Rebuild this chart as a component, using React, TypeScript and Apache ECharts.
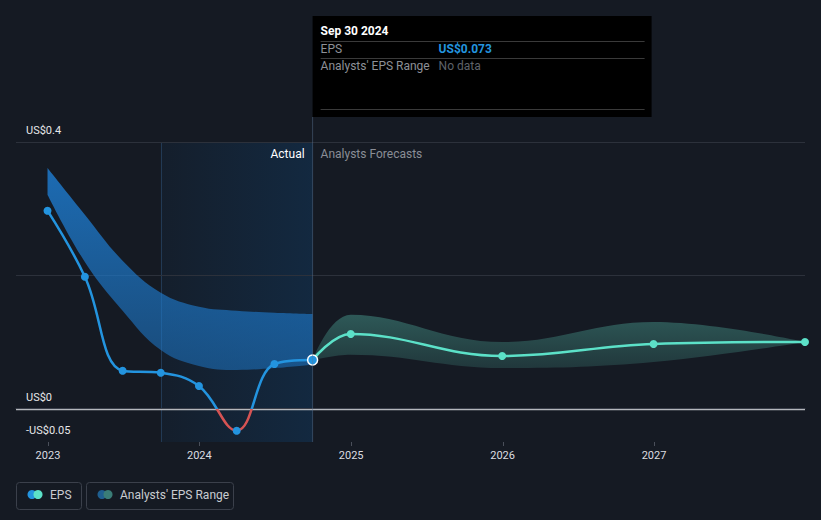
import React, { useEffect, useRef } from "react";
import * as echarts from "echarts";

const actualDates = ["2022-12-31", "2023-03-31", "2023-06-30", "2023-09-30", "2023-12-31", "2024-03-31", "2024-06-30", "2024-09-30"];
const actualEps = [0.297, 0.198, 0.057, 0.054, 0.034, -0.033, 0.067, 0.073];
const pastRangeLow = [0.321, 0.22, 0.147, 0.088, 0.064, 0.058, 0.061, 0.066];
const pastRangeHigh = [0.361, 0.291, 0.222, 0.174, 0.153, 0.147, 0.144, 0.142];

const forecastDates = ["2024-09-30", "2024-12-31", "2025-12-31", "2026-12-31", "2027-12-31"];
const forecastEps = [0.073, 0.112, 0.079, 0.097, 0.1];
const forecastLow = [0.073, 0.081, 0.061, 0.07, 0.1];
const forecastHigh = [0.073, 0.141, 0.1, 0.13, 0.1];

const yearTicks = [2023, 2024, 2025, 2026, 2027];
const yLabelValues = [-0.05, 0, 0.4];
const gridValues = [0.2, 0.4];
const actualStart = "2023-09-30";
const tooltipDate = "2024-09-30";
const tooltipTitle = "Sep 30 2024";
const tooltipEps = "US$0.073";

const ts = (d: string) => {
  const [y, m, dd] = d.split("-").map(Number);
  return Date.UTC(y, m - 1, dd);
};

const FONT = "Roboto, 'Noto Sans', sans-serif";
const BG = "#151a23";
const BLUE = "#2394df";
const RED = "#d65353";
const TEAL = "#5ce1c8";

export default function App() {
  const ref = useRef<HTMLDivElement>(null);
  useEffect(() => {
    if (!ref.current) return;
    const chart = echarts.init(ref.current, null, { renderer: "svg" });
    const pair = (dates: string[], vals: number[]) => dates.map((d, i) => [ts(d), vals[i]]);
    const diff = (lo: number[], hi: number[]) => hi.map((h, i) => +(h - lo[i]).toFixed(4));
    const yearTs = yearTicks.map((y) => Date.UTC(y, 0, 1));

    const option: any = {
      animation: false,
      useUTC: true,
      backgroundColor: BG,
      textStyle: { fontFamily: FONT },
      grid: { left: 16, right: 16, top: 142, bottom: 78, containLabel: false },
      xAxis: {
        type: "time",
        min: Date.UTC(2022, 9, 16),
        max: Date.UTC(2027, 11, 31),
        splitNumber: 5,
        splitLine: { show: false },
        axisLine: { show: true, lineStyle: { color: "#3b404b", width: 1 } },
        axisTick: { show: false },
        axisLabel: {
          color: "#dcdde0",
          fontSize: 11,
          fontFamily: FONT,
          margin: 8,
          showMinLabel: false,
          showMaxLabel: false,
          hideOverlap: false,
          formatter: (v: number) => {
            const d = new Date(v);
            return yearTs.indexOf(v) >= 0 || (d.getUTCMonth() === 0 && d.getUTCDate() === 1)
              ? String(d.getUTCFullYear())
              : "";
          },
        },
      },
      yAxis: {
        type: "value",
        min: -0.05,
        max: 0.4,
        splitLine: { show: false },
        axisLine: { show: false },
        axisTick: { show: false },
        axisLabel: {
          inside: true,
          margin: 10,
          color: "#e6e7e9",
          fontSize: 11,
          fontFamily: FONT,
          verticalAlign: "bottom",
          padding: [0, 0, 6, 0],
          customValues: yLabelValues,
          formatter: (v: number) => (v < 0 ? "-US$" + Math.abs(v) : "US$" + v),
        },
      },
      series: [
        {
          name: "pastLow",
          type: "line",
          stack: "past",
          smooth: 0.4,
          symbol: "none",
          lineStyle: { width: 0, opacity: 0 },
          data: pair(actualDates, pastRangeLow),
          z: 1,
          silent: true,
        },
        {
          name: "Analysts' EPS Range",
          type: "line",
          stack: "past",
          smooth: 0.4,
          symbol: "none",
          lineStyle: { width: 0, opacity: 0 },
          areaStyle: {
            opacity: 1,
            color: new echarts.graphic.LinearGradient(0, 0, 0, 1, [
              { offset: 0, color: "rgba(30,125,210,0.82)" },
              { offset: 1, color: "rgba(30,125,210,0.5)" },
            ]),
          },
          data: pair(actualDates, diff(pastRangeLow, pastRangeHigh)),
          z: 1,
          silent: true,
        },
        {
          name: "fcLow",
          type: "line",
          stack: "fc",
          smooth: 0.4,
          symbol: "none",
          lineStyle: { width: 0, opacity: 0 },
          data: pair(forecastDates, forecastLow),
          z: 1,
          silent: true,
        },
        {
          name: "fcRange",
          type: "line",
          stack: "fc",
          smooth: 0.4,
          symbol: "none",
          lineStyle: { width: 0, opacity: 0 },
          areaStyle: {
            opacity: 1,
            color: new echarts.graphic.LinearGradient(0, 0, 0, 1, [
              { offset: 0, color: "rgba(90,200,180,0.36)" },
              { offset: 1, color: "rgba(90,200,180,0.17)" },
            ]),
          },
          data: pair(forecastDates, diff(forecastLow, forecastHigh)),
          z: 1,
          silent: true,
        },
        {
          name: "EPS",
          type: "line",
          smooth: 0.4,
          symbol: "none",
          lineStyle: { width: 2.5, color: BLUE },
          data: pair(actualDates, actualEps),
          z: 3,
        },
        {
          name: "EPS points",
          type: "scatter",
          symbol: "circle",
          symbolSize: 8,
          itemStyle: { color: BLUE, opacity: 1 },
          data: pair(actualDates, actualEps).slice(0, -1),
          z: 4,
        },
        {
          name: "EPS forecast",
          type: "line",
          smooth: 0.4,
          symbol: "circle",
          symbolSize: 8,
          showAllSymbol: true,
          lineStyle: { width: 2.5, color: TEAL },
          itemStyle: { color: TEAL },
          data: pair(forecastDates, forecastEps).map((p, i) => (i === 0 ? { value: p, symbol: "none" } : { value: p })),
          z: 3,
        },
        {
          name: "EPS latest",
          type: "scatter",
          symbol: "circle",
          symbolSize: 10,
          itemStyle: { color: BLUE, borderColor: "#ffffff", borderWidth: 1.5, opacity: 1 },
          data: pair(actualDates, actualEps).slice(-1),
          z: 5,
        },
      ],
    };
    chart.setOption(option);

    const xPx = (d: string) => chart.convertToPixel({ xAxisIndex: 0 }, ts(d)) as number;
    const xPxTs = (t: number) => chart.convertToPixel({ xAxisIndex: 0 }, t) as number;
    const yPx = (v: number) => chart.convertToPixel({ yAxisIndex: 0 }, v) as number;
    const px = xPx(tooltipDate);
    const xStart = xPx(actualStart);
    const yBottom = yPx(-0.05);
    const yTop = yPx(0.4);
    const y0 = yPx(0);
    const xLeft = 16;
    const xRight = 821 - 16;
    const off = (y0 - yTop) / (yBottom - yTop);

    chart.setOption({
      series: [
        {},
        {},
        {},
        {},
        {
          lineStyle: {
            color: new echarts.graphic.LinearGradient(
              0,
              yTop,
              0,
              yBottom,
              [
                { offset: 0, color: BLUE },
                { offset: off, color: BLUE },
                { offset: off, color: RED },
                { offset: 1, color: RED },
              ],
              true
            ),
          },
        },
      ],
    });

    const boxTop = 16;
    const boxH = 101;
    const boxW = 339;
    const tx = px + 8;
    const valX = px + 126;

    const hLine = (v: number, color: string, w: number) => ({
      type: "line",
      silent: true,
      z: 0,
      shape: { x1: xLeft, y1: Math.round(yPx(v)) + 0.5, x2: xRight, y2: Math.round(yPx(v)) + 0.5 },
      style: { stroke: color, lineWidth: w },
    });

    const graphic: any[] = [
      {
        type: "rect",
        silent: true,
        z: -1,
        shape: { x: xStart, y: yTop, width: px - xStart, height: yBottom - yTop },
        style: {
          fill: new echarts.graphic.LinearGradient(0, 0, 1, 0, [
            { offset: 0, color: "rgba(10,100,180,0.06)" },
            { offset: 1, color: "rgba(10,100,180,0.2)" },
          ]),
        },
      },
      {
        type: "line",
        silent: true,
        z: -1,
        shape: { x1: Math.round(xStart) + 0.5, y1: yTop, x2: Math.round(xStart) + 0.5, y2: yBottom },
        style: { stroke: "rgba(60,110,160,0.35)", lineWidth: 1 },
      },
      ...gridValues.map((v) => hLine(v, "#2c313b", 1)),
      hLine(0, "#b4b7bc", 1.5),
      ...yearTs.map((t) => ({
        type: "line",
        silent: true,
        z: 0,
        shape: { x1: Math.round(xPxTs(t)) + 0.5, y1: yBottom, x2: Math.round(xPxTs(t)) + 0.5, y2: yBottom + 4 },
        style: { stroke: "#4a4f5a", lineWidth: 1 },
      })),
      {
        type: "line",
        silent: true,
        z: 50,
        shape: { x1: px, y1: boxTop + boxH, x2: px, y2: yBottom },
        style: { stroke: "rgba(90,120,150,0.45)", lineWidth: 1 },
      },
      { type: "rect", z: 60, shape: { x: px, y: boxTop, width: boxW, height: boxH }, style: { fill: "#000000" } },
      { type: "text", z: 61, x: tx, y: 31, style: { text: tooltipTitle, fill: "#ffffff", font: `bold 12px ${FONT}`, verticalAlign: "middle" } },
      { type: "line", z: 61, shape: { x1: tx, y1: 41.5, x2: px + boxW - 7, y2: 41.5 }, style: { stroke: "#3a3a3a", lineWidth: 1 } },
      { type: "text", z: 61, x: tx, y: 49, style: { text: "EPS", fill: "#8d9097", font: `12px ${FONT}`, verticalAlign: "middle" } },
      { type: "text", z: 61, x: valX, y: 49, style: { text: tooltipEps, fill: BLUE, font: `bold 12px ${FONT}`, verticalAlign: "middle" } },
      { type: "line", z: 61, shape: { x1: tx, y1: 58.5, x2: px + boxW - 7, y2: 58.5 }, style: { stroke: "#3a3a3a", lineWidth: 1 } },
      { type: "text", z: 61, x: tx, y: 66, style: { text: "Analysts' EPS Range", fill: "#8d9097", font: `12px ${FONT}`, verticalAlign: "middle" } },
      { type: "text", z: 61, x: valX, y: 66, style: { text: "No data", fill: "#5f636a", font: `12px ${FONT}`, verticalAlign: "middle" } },
      { type: "line", z: 61, shape: { x1: tx, y1: 109.5, x2: px + boxW - 7, y2: 109.5 }, style: { stroke: "#3a3a3a", lineWidth: 1 } },
      { type: "text", z: 61, x: px - 8, y: yTop + 12, style: { text: "Actual", fill: "#ffffff", font: `12px ${FONT}`, align: "right", verticalAlign: "middle" } },
      { type: "text", z: 61, x: px + 8, y: yTop + 12, style: { text: "Analysts Forecasts", fill: "#8a8e96", font: `12px ${FONT}`, align: "left", verticalAlign: "middle" } },
      { type: "rect", z: 61, shape: { x: 16.5, y: 482.5, width: 65, height: 27, r: 3 }, style: { fill: "transparent", stroke: "#3b404b", lineWidth: 1 } },
      { type: "circle", z: 62, shape: { cx: 32, cy: 494.5, r: 4.5 }, style: { fill: BLUE } },
      { type: "circle", z: 63, shape: { cx: 38, cy: 494.5, r: 4.5 }, style: { fill: TEAL } },
      { type: "text", z: 62, x: 50, y: 495, style: { text: "EPS", fill: "#c9ccd1", font: `12px ${FONT}`, verticalAlign: "middle" } },
      { type: "rect", z: 61, shape: { x: 86.5, y: 482.5, width: 147, height: 27, r: 3 }, style: { fill: "transparent", stroke: "#3b404b", lineWidth: 1 } },
      { type: "circle", z: 62, shape: { cx: 102, cy: 494.5, r: 4.5 }, style: { fill: "#1f5f90" } },
      { type: "circle", z: 63, shape: { cx: 108, cy: 494.5, r: 4.5 }, style: { fill: "#3a7d77" } },
      { type: "text", z: 62, x: 120, y: 495, style: { text: "Analysts' EPS Range", fill: "#c9ccd1", font: `12px ${FONT}`, verticalAlign: "middle" } },
    ];
    chart.setOption({ graphic });

    return () => chart.dispose();
  }, []);
  return <div ref={ref} style={{ width: 821, height: 520, position: "absolute", left: 0, top: 0 }} />;
}
